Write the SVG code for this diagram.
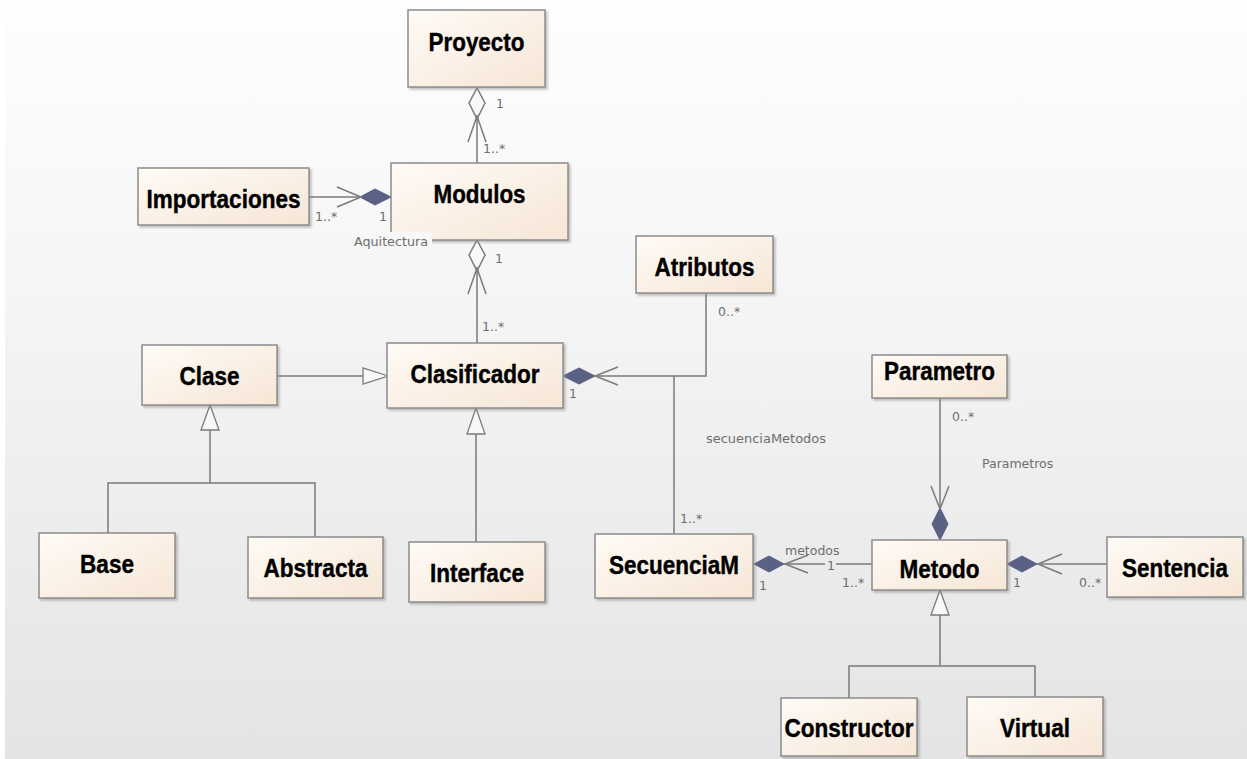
<svg xmlns="http://www.w3.org/2000/svg" width="1247" height="759" viewBox="0 0 1247 759">
<defs>
<linearGradient id="bg" gradientUnits="userSpaceOnUse" x1="0" y1="0" x2="0" y2="759">
<stop offset="0" stop-color="#fefefe"/>
<stop offset="0.35" stop-color="#f6f6f6"/>
<stop offset="1" stop-color="#e4e4e4"/>
</linearGradient>
<linearGradient id="box" x1="0" y1="0" x2="1" y2="1">
<stop offset="0" stop-color="#fffbf6"/>
<stop offset="1" stop-color="#f6e6d6"/>
</linearGradient>
<filter id="sh" x="-10%" y="-10%" width="130%" height="140%">
<feDropShadow dx="2" dy="2" stdDeviation="1.2" flood-color="#888" flood-opacity="0.5"/>
</filter>
</defs>
<style>
.n rect{fill:url(#box);stroke:#8c8c8c;stroke-width:1.5;filter:url(#sh)}
.n text{font-family:"Liberation Sans",Arial,sans-serif;font-weight:bold;font-size:25px;fill:#000;stroke:#000;stroke-width:0.4;text-anchor:middle}
.c line,.c polyline{stroke:#7a7a7a;stroke-width:1.5;fill:none}
.c .fd{fill:#5a6184;stroke:#5a6184;stroke-width:1}
.c .hd{fill:#f8f8f8;stroke:#7a7a7a;stroke-width:1.5}
.c .tri{fill:#f8f8f8;stroke:#7a7a7a;stroke-width:1.3}
.lb{font-family:"DejaVu Sans",sans-serif;font-size:12.5px;fill:#6e6e6e}
.pt{fill:url(#bg)}
</style>
<rect x="0" y="0" width="1247" height="759" fill="#ffffff"/>
<rect x="5" y="0" width="1242" height="759" fill="url(#bg)"/>

<g class="c" id="connectors">
<!-- Proyecto - Modulos -->
<line x1="477" y1="88" x2="477" y2="163"/>
<polygon class="hd" points="477,88 485,103 477,119 469,103"/>
<polyline points="468,142 477,116 486,142"/>
<!-- Importaciones - Modulos -->
<line x1="309" y1="197" x2="362" y2="197"/>
<polygon class="fd" points="391,197 375,205 360,197 375,189"/>
<polyline points="337,187 361,197 337,207"/>
<!-- Modulos - Clasificador -->
<line x1="477" y1="240" x2="477" y2="343"/>
<polygon class="hd" points="477,240 485,255 477,271 469,255"/>
<polyline points="468,294 477,268 486,294"/>
<!-- Clasificador - Atributos / SecuenciaM -->
<polyline points="706,293 706,376 597,376"/>
<line x1="674" y1="376" x2="674" y2="534"/>
<polygon class="fd" points="563,376 579,368 595,376 579,384"/>
<polyline points="618,367 595,376 618,385"/>
<!-- Clase -> Clasificador -->
<line x1="277" y1="376" x2="363" y2="376"/>
<polygon class="tri" points="388,376 363,368 363,384"/>
<!-- Base/Abstracta -> Clase -->
<polyline points="108,533 108,483 315,483 315,537"/>
<line x1="210" y1="483" x2="210" y2="430"/>
<polygon class="tri" points="210,405 201,430 219,430"/>
<!-- Interface -> Clasificador -->
<line x1="476" y1="542" x2="476" y2="434"/>
<polygon class="tri" points="476,408 467,434 485,434"/>
<!-- Parametro - Metodo -->
<line x1="940" y1="398" x2="940" y2="508"/>
<polygon class="fd" points="940,540 948,524 940,508 932,524"/>
<polyline points="931,486 940,509 949,486"/>
<!-- SecuenciaM - Metodo -->
<line x1="784" y1="564" x2="872" y2="564"/>
<polygon class="fd" points="754,564 769,556 784,564 769,572"/>
<polyline points="808,555 785,564 808,573"/>
<!-- Metodo - Sentencia -->
<line x1="1037" y1="564" x2="1107" y2="564"/>
<polygon class="fd" points="1007,564 1022,556 1037,564 1022,572"/>
<polyline points="1062,554 1038,564 1062,574"/>
<!-- Constructor/Virtual -> Metodo -->
<polyline points="849,698 849,666 1035,666 1035,697"/>
<line x1="940" y1="666" x2="940" y2="615"/>
<polygon class="tri" points="940,590 931,615 949,615"/>
</g>

<g class="n" id="Proyecto"><rect x="408" y="10" width="137" height="77"/><text x="476.5" y="51" textLength="96" lengthAdjust="spacingAndGlyphs">Proyecto</text></g>
<g class="n" id="Modulos"><rect x="391" y="163" width="177" height="77"/><text x="479.5" y="203" textLength="92" lengthAdjust="spacingAndGlyphs">Modulos</text></g>
<g class="n" id="Importaciones"><rect x="138" y="168" width="171" height="57"/><text x="223.5" y="208" textLength="154" lengthAdjust="spacingAndGlyphs">Importaciones</text></g>
<g class="n" id="Atributos"><rect x="636" y="236" width="137" height="57"/><text x="704.5" y="276" textLength="100" lengthAdjust="spacingAndGlyphs">Atributos</text></g>
<g class="n" id="Clasificador"><rect x="387" y="343" width="176" height="65"/><text x="475" y="383" textLength="129" lengthAdjust="spacingAndGlyphs">Clasificador</text></g>
<g class="n" id="Clase"><rect x="142" y="345" width="135" height="60"/><text x="209.5" y="385" textLength="60" lengthAdjust="spacingAndGlyphs">Clase</text></g>
<g class="n" id="Base"><rect x="39" y="533" width="136" height="65"/><text x="107" y="573" textLength="54" lengthAdjust="spacingAndGlyphs">Base</text></g>
<g class="n" id="Abstracta"><rect x="248" y="537" width="135" height="61"/><text x="315.5" y="577" textLength="104" lengthAdjust="spacingAndGlyphs">Abstracta</text></g>
<g class="n" id="Interface"><rect x="409" y="542" width="136" height="60"/><text x="477" y="582" textLength="94" lengthAdjust="spacingAndGlyphs">Interface</text></g>
<g class="n" id="SecuenciaM"><rect x="595" y="534" width="158" height="64"/><text x="674" y="574" textLength="130" lengthAdjust="spacingAndGlyphs">SecuenciaM</text></g>
<g class="n" id="Parametro"><rect x="872" y="355" width="135" height="43"/><text x="939.5" y="380" textLength="111" lengthAdjust="spacingAndGlyphs">Parametro</text></g>
<g class="n" id="Metodo"><rect x="872" y="540" width="135" height="50"/><text x="939.5" y="578" textLength="80" lengthAdjust="spacingAndGlyphs">Metodo</text></g>
<g class="n" id="Sentencia"><rect x="1107" y="537" width="136" height="60"/><text x="1175" y="577" textLength="106" lengthAdjust="spacingAndGlyphs">Sentencia</text></g>
<g class="n" id="Constructor"><rect x="781" y="698" width="136" height="58"/><text x="849" y="737" textLength="129" lengthAdjust="spacingAndGlyphs">Constructor</text></g>
<g class="n" id="Virtual"><rect x="967" y="697" width="136" height="59"/><text x="1035" y="737" textLength="70" lengthAdjust="spacingAndGlyphs">Virtual</text></g>

<g id="labels">
<text class="lb" x="496" y="108">1</text>
<text class="lb" x="483" y="153">1..*</text>
<text class="lb" x="315" y="221">1..*</text>
<text class="lb" x="379" y="221">1</text>
<rect class="pt" x="352" y="232" width="80" height="17"/>
<text class="lb" x="354" y="246" textLength="74" lengthAdjust="spacingAndGlyphs">Aquitectura</text>
<text class="lb" x="495" y="263">1</text>
<text class="lb" x="482" y="331">1..*</text>
<text class="lb" x="718" y="316">0..*</text>
<text class="lb" x="569" y="398">1</text>
<text class="lb" x="706" y="443" textLength="120" lengthAdjust="spacingAndGlyphs">secuenciaMetodos</text>
<text class="lb" x="680" y="523">1..*</text>
<text class="lb" x="952" y="421">0..*</text>
<text class="lb" x="982" y="468">Parametros</text>
<text class="lb" x="785" y="555">metodos</text>
<rect class="pt" x="825" y="558" width="11" height="13"/>
<text class="lb" x="827" y="570">1</text>
<text class="lb" x="759" y="590">1</text>
<text class="lb" x="842" y="587">1..*</text>
<text class="lb" x="1013" y="587">1</text>
<text class="lb" x="1079" y="587">0..*</text>
</g>
</svg>
